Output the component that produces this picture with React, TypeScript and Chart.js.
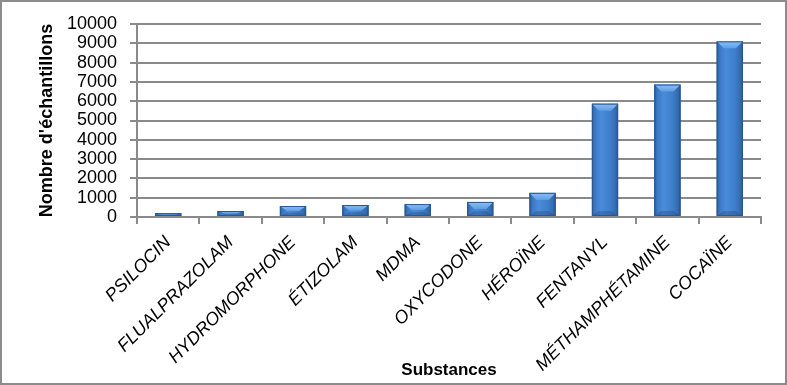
import React, { useEffect, useRef } from "react";
import { Chart, registerables } from "chart.js";

Chart.register(...registerables);

const categories = [
  "PSILOCIN",
  "FLUALPRAZOLAM",
  "HYDROMORPHONE",
  "ÉTIZOLAM",
  "MDMA",
  "OXYCODONE",
  "HÉROÏNE",
  "FENTANYL",
  "MÉTHAMPHÉTAMINE",
  "COCAÏNE",
];
const samples = [200, 310, 570, 620, 670, 780, 1250, 5870, 6860, 9100];
const yMin = 0;
const yMax = 10000;
const yStep = 1000;
const yTitle = "Nombre d'échantillons";
const xTitle = "Substances";

const FONT = "'Liberation Sans', Arial, sans-serif";
const GRID = "#8a8a8a";

const decorPlugin = {
  id: "decor",
  beforeDraw(chart: any) {
    const { ctx, width, height } = chart;
    ctx.save();
    ctx.fillStyle = "#ffffff";
    ctx.fillRect(0, 0, width, height);
    ctx.restore();
  },
  afterDatasetsDraw(chart: any) {
    const { ctx } = chart;
    const meta = chart.getDatasetMeta(0);
    ctx.save();
    meta.data.forEach((bar: any) => {
      const w = bar.width;
      const left = bar.x - w / 2;
      const right = bar.x + w / 2;
      const top = bar.y;
      const bottom = bar.base;
      const h = bottom - top;
      const g = ctx.createLinearGradient(left, 0, right, 0);
      g.addColorStop(0, "#2d5c98");
      g.addColorStop(0.12, "#3c79c5");
      g.addColorStop(0.35, "#4a8cda");
      g.addColorStop(0.7, "#3e7ecb");
      g.addColorStop(0.9, "#346bb0");
      g.addColorStop(1, "#2a5690");
      ctx.fillStyle = g;
      ctx.fillRect(left, top, w, h);
      const bev = Math.min(7, h / 2);
      const inset = Math.min(7, w / 3);
      const gb = ctx.createLinearGradient(0, top, 0, top + bev);
      gb.addColorStop(0, "#8cc0f5");
      gb.addColorStop(1, "#5e9de6");
      ctx.fillStyle = gb;
      ctx.beginPath();
      ctx.moveTo(left, top);
      ctx.lineTo(right, top);
      ctx.lineTo(right - inset, top + bev);
      ctx.lineTo(left + inset, top + bev);
      ctx.closePath();
      ctx.fill();
      const bb = Math.min(5, h / 3);
      ctx.fillStyle = "rgba(30,60,110,0.3)";
      ctx.beginPath();
      ctx.moveTo(left, bottom);
      ctx.lineTo(right, bottom);
      ctx.lineTo(right - inset, bottom - bb);
      ctx.lineTo(left + inset, bottom - bb);
      ctx.closePath();
      ctx.fill();
      ctx.strokeStyle = "#2b5890";
      ctx.lineWidth = 1;
      ctx.strokeRect(left + 0.5, top + 0.5, w - 1, h - 1);
    });
    ctx.restore();
  },
  afterDraw(chart: any) {
    const { ctx, width, height } = chart;
    ctx.save();
    ctx.strokeStyle = "#8c8c8c";
    ctx.lineWidth = 2;
    ctx.strokeRect(1, 1, width - 2, height - 2);
    ctx.restore();
  },
};

export default function App() {
  const canvasRef = useRef<HTMLCanvasElement | null>(null);

  useEffect(() => {
    if (!canvasRef.current) return;
    const chart = new Chart(canvasRef.current, {
      type: "bar",
      data: {
        labels: categories,
        datasets: [
          {
            label: yTitle,
            data: samples,
            backgroundColor: "#3b78c4",
            borderWidth: 0,
            barPercentage: 0.42,
            categoryPercentage: 1,
          },
        ],
      },
      options: {
        responsive: false,
        animation: false,
        layout: { padding: { left: 36, top: 24, right: 26, bottom: 4 } },
        plugins: {
          legend: { display: false },
          tooltip: { enabled: false },
        },
        scales: {
          x: {
            afterFit: (scale: any) => {
              scale.height = 164;
            },
            grid: {
              display: true,
              drawOnChartArea: false,
              drawTicks: true,
              tickLength: 7,
              color: GRID,
              lineWidth: 2,
              offset: true,
            },
            border: { display: true, color: GRID, width: 2 },
            ticks: {
              color: "#000",
              font: { family: FONT, size: 18, style: "italic" },
              maxRotation: 45,
              minRotation: 45,
              autoSkip: false,
              padding: 8,
            },
            title: {
              display: true,
              text: xTitle,
              color: "#000",
              font: { family: FONT, size: 17, weight: "bold" },
              padding: { top: 0, bottom: 0 },
            },
          },
          y: {
            min: yMin,
            max: yMax,
            afterFit: (scale: any) => {
              scale.width = 101;
            },
            grid: {
              color: GRID,
              lineWidth: 2,
              tickLength: 7,
            },
            border: { display: true, color: GRID, width: 2 },
            ticks: {
              stepSize: yStep,
              autoSkip: false,
              color: "#000",
              font: { family: FONT, size: 18, lineHeight: 1 },
              padding: 13,
              callback: (v: any) => String(v),
            },
            title: {
              display: true,
              text: yTitle,
              color: "#000",
              font: { family: FONT, size: 18, weight: "bold" },
              padding: { top: 0, bottom: 12 },
            },
          },
        },
      },
      plugins: [decorPlugin],
    });
    return () => chart.destroy();
  }, []);

  return (
    <div style={{ position: "absolute", left: 0, top: 0, width: 787, height: 385 }}>
      <canvas ref={canvasRef} width={787} height={385} style={{ display: "block" }} />
    </div>
  );
}
